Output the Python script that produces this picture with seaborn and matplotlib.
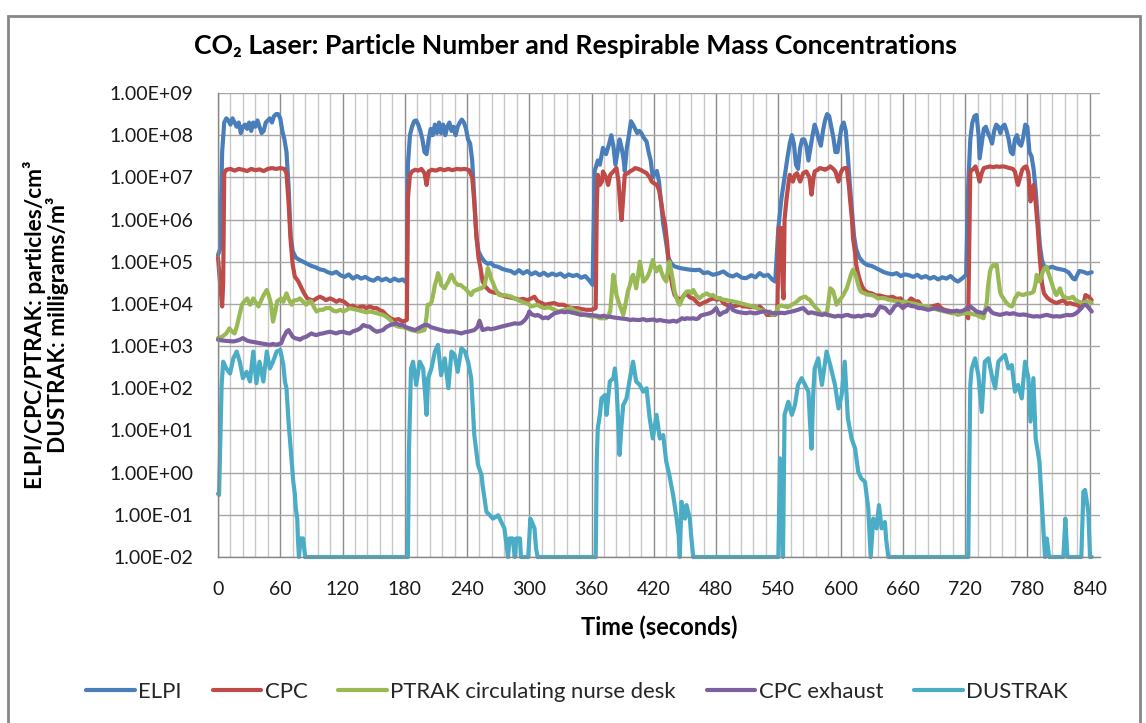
import numpy as np
import pandas as pd
import matplotlib
matplotlib.use("Agg")
import matplotlib.pyplot as plt
import seaborn as sns
from matplotlib.ticker import MultipleLocator, FixedLocator, NullLocator, FuncFormatter
from matplotlib.patches import Rectangle

# ---------------- data (time in s, log10 of concentration) ----------------
SERIES = ["ELPI", "CPC", "PTRAK circulating nurse desk", "CPC exhaust", "DUSTRAK"]
COLORS = ["#4A7EBB", "#BE4B48", "#98B954", "#7D60A0", "#4BACC6"]
X_TICKS = list(range(0, 841, 60))
Y_DECADES = list(range(-2, 10))

ELPI_LOG = [(0,5.16),(2,5.3),(4,7.6),(6,8.3),(8,8.4),(10,8.35),(12,8.25),(14,8.4),(16,8.3),(18,8.2),(20,8.3),(22,8.05),(24,8.2),(26,8.25),(28,8.15),(30,8.3),(32,8.1),(34,8.3),(36,8.2),(38,8.35),(40,8.2),(42,8.05),(44,8.1),(46,8.3),(48,8.35),(50,8.4),(52,8.3),(54,8.45),(56,8.5),(58,8.5),(60,8.4),(62,8.1),(64,7.9),(66,7.6),(68,6.8),(70,5.6),(72,5.25),(75,5.1),(78,5.05),(82,5.0),(86,4.95),(90,4.9),(94,4.87),(98,4.82),(102,4.8),(106,4.75),(110,4.72),(114,4.76),(118,4.68),(122,4.64),(126,4.7),(130,4.6),(134,4.66),(138,4.6),(142,4.64),(146,4.58),(150,4.55),(154,4.62),(158,4.56),(162,4.6),(166,4.54),(170,4.6),(174,4.55),(178,4.58),(182,4.5),
(183,7.3),(185,8.0),(187,8.2),(189,8.33),(191,8.35),(193,8.25),(195,8.1),(197,7.9),(199,7.6),(201,7.55),(203,7.9),(205,8.15),(207,8.0),(209,8.25),(211,8.05),(213,8.3),(215,8.05),(217,8.25),(219,8.0),(221,8.2),(223,8.3),(225,8.1),(227,8.2),(229,8.0),(231,8.2),(233,8.3),(235,8.37),(237,8.3),(239,8.15),(241,7.9),(243,7.8),(245,7.4),(247,6.5),(249,5.6),(251,5.25),(254,5.1),(257,5.0),(260,4.95),(263,4.97),(266,4.9),(270,4.88),(274,4.83),(278,4.8),(282,4.78),(286,4.72),(290,4.8),(294,4.72),(298,4.78),(302,4.7),(306,4.75),(310,4.68),(314,4.74),(318,4.67),(322,4.72),(326,4.68),(330,4.72),(334,4.64),(338,4.7),(342,4.66),(346,4.69),(350,4.62),(354,4.66),(358,4.55),(361,4.45),
(363,7.15),(366,7.4),(368,7.3),(371,7.7),(374,7.55),(377,7.8),(379,8.0),(381,7.75),(383,7.3),(385,7.6),(387,7.9),(389,7.7),(391,7.4),(392,7.15),(394,7.7),(396,8.0),(398,8.33),(400,8.25),(402,8.15),(404,8.05),(406,8.1),(408,8.05),(410,7.95),(413,7.85),(415,7.6),(417,7.4),(419,7.0),(421,7.1),(423,7.15),(425,6.9),(427,6.4),(429,5.9),(431,5.6),(434,5.1),(437,4.95),(440,4.89),(445,4.85),(450,4.83),(455,4.81),(460,4.8),(464,4.81),(468,4.73),(472,4.75),(477,4.69),(482,4.72),(487,4.77),(492,4.68),(496,4.65),(500,4.7),(505,4.62),(509,4.61),(514,4.68),(518,4.63),(522,4.73),(526,4.66),(530,4.69),(534,4.58),(537,4.53),
(540,5.8),(543,6.5),(546,7.0),(549,7.5),(551,7.8),(553,8.0),(555,7.8),(557,7.3),(559,7.2),(561,7.7),(563,7.9),(565,7.9),(567,7.75),(569,7.4),(571,7.7),(573,8.0),(575,8.25),(577,8.1),(579,7.9),(581,7.75),(583,8.1),(585,8.35),(587,8.5),(589,8.45),(591,8.2),(593,7.95),(595,7.6),(597,7.6),(599,7.9),(601,8.2),(603,8.3),(605,8.1),(607,7.5),(609,6.8),(611,6.2),(613,5.6),(615,5.3),(618,5.1),(622,4.98),(626,4.92),(630,4.9),(634,4.85),(638,4.8),(642,4.75),(646,4.72),(650,4.7),(654,4.73),(658,4.66),(662,4.7),(666,4.68),(670,4.64),(674,4.69),(678,4.62),(682,4.66),(686,4.6),(690,4.64),(694,4.58),(698,4.63),(702,4.6),(706,4.66),(710,4.57),(713,4.53),(717,4.6),(721,4.69),
(723,6.8),(725,7.9),(727,8.3),(729,8.45),(731,8.48),(733,8.0),(734,7.45),(736,7.8),(738,8.15),(740,8.2),(742,8.05),(744,7.95),(746,7.8),(748,8.1),(750,8.25),(752,8.2),(754,8.05),(756,8.2),(758,8.25),(760,8.1),(762,7.9),(764,7.6),(766,7.55),(768,7.9),(770,8.0),(772,7.8),(774,7.75),(776,7.95),(778,8.25),(780,8.2),(782,7.6),(784,7.5),(786,7.2),(788,6.7),(790,6.0),(792,5.4),(794,5.05),(796,4.9),(800,4.85),(804,4.88),(808,4.84),(812,4.82),(816,4.8),(820,4.74),(824,4.6),(826,4.58),(830,4.78),(834,4.76),(838,4.72),(842,4.75)]

CPC_LOG = [(0,5.1),(2,4.5),(4,3.94),(5,4.5),(6,7.1),(8,7.18),(12,7.2),(16,7.16),(20,7.2),(24,7.18),(28,7.15),(32,7.2),(36,7.17),(40,7.19),(44,7.15),(48,7.2),(52,7.22),(56,7.2),(60,7.22),(64,7.2),(66,7.1),(68,6.4),(70,5.5),(72,4.93),(74,4.65),(77,4.55),(80,4.4),(83,4.25),(86,4.13),(89,4.1),(92,4.08),(95,4.13),(98,4.17),(101,4.14),(104,4.09),(108,4.13),(111,4.1),(114,4.05),(117,4.09),(121,4.06),(124,4.0),(127,3.94),(130,3.96),(134,3.9),(137,3.93),(140,3.94),(143,3.9),(146,3.94),(150,3.9),(153,3.9),(156,3.85),(159,3.82),(162,3.74),(166,3.66),(170,3.62),(174,3.64),(178,3.58),(182,3.62),
(183,6.5),(185,7.06),(187,7.14),(190,7.18),(193,7.16),(196,7.2),(199,7.1),(201,6.82),(203,7.14),(206,7.18),(210,7.16),(214,7.2),(218,7.17),(222,7.2),(226,7.17),(230,7.2),(234,7.19),(238,7.2),(242,7.17),(245,7.0),(247,6.4),(249,5.64),(251,5.1),(253,4.85),(255,4.53),(258,4.4),(262,4.3),(266,4.27),(270,4.25),(274,4.2),(278,4.17),(282,4.15),(286,4.13),(290,4.1),(294,4.12),(298,4.09),(302,4.13),(305,4.17),(308,4.06),(312,4.02),(315,3.98),(319,4.0),(324,4.02),(328,3.98),(333,3.98),(338,3.92),(342,3.9),(346,3.9),(350,3.88),(355,3.86),(360,3.86),(364,3.9),
(365,6.27),(366,7.06),(368,6.82),(370,6.9),(371,7.14),(374,7.0),(376,6.82),(378,7.06),(381,7.14),(384,7.22),(386,6.9),(388,6.2),(389,5.99),(391,6.7),(392,7.06),(395,7.1),(397,7.14),(400,7.18),(402,7.22),(405,7.2),(407,7.18),(410,7.14),(413,7.1),(416,7.0),(418,6.9),(420,6.86),(423,6.82),(425,6.7),(427,6.43),(429,6.1),(431,5.87),(433,5.4),(434,5.08),(436,4.7),(438,4.4),(440,4.21),(443,4.13),(446,4.1),(449,4.2),(451,4.25),(455,4.15),(458,4.13),(461,4.05),(464,3.98),(468,4.03),(471,4.06),(474,4.1),(477,4.13),(481,4.1),(484,4.13),(487,4.02),(490,3.98),(493,3.96),(496,3.94),(500,3.96),(503,3.98),(506,3.94),(509,3.94),(513,3.92),(516,3.94),(520,3.9),(522,3.94),(526,3.85),(529,3.74),(533,3.74),(537,3.74),(539,3.82),
(540.5,5.8),(543,5.8),(544,4.5),(545,4.13),(546,6.0),(548,6.51),(550,6.9),(551,7.06),(554,6.9),(556,7.06),(558,7.1),(561,6.9),(564,7.1),(567,7.14),(570,7.0),(572,6.59),(574,7.0),(575,7.14),(578,7.18),(580,7.22),(583,7.2),(585,7.18),(588,7.22),(590,7.26),(593,7.2),(595,7.14),(598,6.9),(600,7.1),(602,7.2),(604,7.22),(606,7.22),(608,6.8),(609,6.51),(611,6.0),(612,5.56),(614,5.2),(615,4.93),(617,4.7),(619,4.53),(621,4.4),(623,4.33),(626,4.27),(630,4.25),(634,4.2),(638,4.2),(642,4.17),(646,4.15),(650,4.17),(654,4.12),(658,4.13),(662,3.98),(665,4.05),(668,4.13),(672,4.06),(675,4.06),(678,3.95),(681,3.9),(685,3.92),(688,3.94),(691,3.96),(694,3.98),(697,3.9),(700,3.86),(704,3.84),(708,3.82),(712,3.8),(716,3.78),(721,3.82),(723,3.66),
(725,7.14),(728,7.2),(730,7.26),(732,7.1),(734,6.9),(736,7.1),(738,7.22),(741,7.24),(744,7.26),(747,7.24),(750,7.26),(753,7.25),(757,7.26),(760,7.24),(763,7.22),(766,7.2),(768,7.14),(770,6.9),(771,6.82),(773,7.0),(775,7.18),(777,7.24),(779,7.26),(781,7.1),(783,6.43),(785,6.6),(786,6.82),(788,6.4),(790,5.8),(792,5.08),(794,4.5),(796,4.25),(799,4.15),(802,4.09),(805,4.05),(808,4.02),(811,4.05),(815,4.09),(818,4.0),(821,4.02),(825,3.99),(828,3.98),(832,3.9),(834,4.0),(836,4.21),(839,4.17),(842,4.09)]

PTRAK_LOG = [(0,3.19),(4,3.22),(8,3.3),(11,3.42),(13,3.36),(16,3.3),(18,3.45),(20,3.66),(23,3.98),(25,4.05),(28,4.13),(31,3.98),(34,4.13),(36,4.05),(39,3.94),(41,4.05),(44,4.21),(47,4.33),(49,4.2),(51,4.0),(53,3.58),(55,3.8),(57,4.06),(59,4.1),(61,4.13),(63,4.05),(66,4.25),(68,4.12),(71,3.98),(73,4.08),(76,4.09),(79,4.13),(82,4.05),(85,3.98),(88,4.06),(90,4.06),(93,3.9),(95,3.82),(98,3.86),(101,3.86),(104,3.9),(108,3.9),(111,3.84),(114,3.82),(118,3.86),(121,3.82),(124,3.86),(127,3.9),(130,3.88),(134,3.86),(137,3.84),(140,3.82),(143,3.8),(146,3.82),(150,3.8),(153,3.78),(156,3.76),(159,3.74),(162,3.7),(166,3.62),(170,3.5),(174,3.46),(178,3.45),(182,3.42),
(186,3.38),(190,3.36),(193,3.34),(196,3.36),(199,3.38),(201,3.7),(202,3.98),(205,4.0),(206,4.06),(208,4.3),(209,4.45),(211,4.6),(212,4.73),(214,4.6),(215,4.45),(217,4.4),(218.5,4.37),(220,4.45),(222,4.53),(224,4.65),(225,4.69),(227,4.6),(228,4.53),(231,4.45),(234,4.45),(236,4.4),(238,4.37),(241,4.29),(244,4.21),(246,4.3),(249,4.33),(252,4.36),(254,4.37),(257,4.45),(259,4.7),(260,4.85),(262,4.72),(263,4.61),(265,4.5),(267,4.37),(269,4.28),(271,4.21),(274,4.2),(276,4.21),(280,4.19),(283,4.17),(286,4.13),(289,4.09),(292,4.06),(296,4.02),(299,4.0),(302,3.94),(305,3.96),(308,3.98),(312,3.92),(315,3.9),(318,3.92),(321,3.9),(325,3.85),(328,3.82),(331,3.84),(334,3.86),(337,3.88),(340,3.9),(343,3.85),(347,3.82),(350,3.78),(353,3.74),(356,3.72),(360,3.7),
(364,3.7),(368,3.66),(371,3.66),(374,3.66),(376,3.72),(378,3.82),(380,4.4),(381,4.69),(383,4.4),(384,4.21),(386,4.05),(387,3.98),(389,3.85),(390.5,3.74),(392,3.9),(393.7,4.13),(395,4.3),(397,4.45),(398.5,4.6),(400,4.69),(402,4.5),(403,4.37),(405,4.7),(406.5,5.0),(408,4.8),(409.8,4.53),(411,4.55),(413,4.61),(415,4.7),(416,4.77),(418,4.95),(419,5.04),(421,4.85),(422.6,4.77),(424,4.85),(425.8,4.89),(427,4.78),(429,4.65),(430,4.6),(432,4.53),(433,4.7),(435,5.0),(437,4.75),(438.6,4.53),(440,4.3),(442,4.13),(444,4.0),(445,3.98),(447,4.1),(449,4.2),(451.5,4.29),(454,4.3),(456,4.25),(458,4.33),(461,4.2),(464,4.13),(467,4.2),(471,4.25),(474,4.2),(477,4.21),(480,4.15),(484,4.13),(487,4.1),(490,4.09),(493,4.07),(496,4.06),(500,4.04),(503,4.02),(506,4.0),(509,3.98),(512,3.96),(516,3.94),(519,3.9),(522,3.86),(526,3.84),(529,3.8),(532,3.82),(534,3.74),(537,3.76),
(540,3.94),(543,3.96),(546,3.94),(549,3.92),(553,3.98),(556,4.02),(558,4.06),(561,4.13),(563,4.15),(566,4.17),(568,4.13),(570.5,4.09),(573,4.0),(575,3.94),(578,3.86),(582,3.74),(584,3.78),(586.5,3.74),(588,4.0),(590,4.37),(592,4.33),(593,4.29),(595,4.1),(596,3.98),(598,4.05),(599,4.09),(601,4.15),(602.6,4.21),(604,4.28),(606,4.37),(607,4.45),(609,4.61),(610,4.7),(612,4.81),(614,4.72),(615,4.65),(617,4.45),(618.6,4.33),(620,4.28),(623,4.25),(626,4.22),(630,4.21),(633,4.18),(636,4.13),(640,4.14),(643,4.13),(646,4.1),(649,4.09),(652,4.07),(655.6,4.06),(659,4.04),(662,4.06),(665,4.03),(668,4.02),(672,4.0),(675,3.98),(678,3.96),(681,3.94),(684,3.93),(688,3.9),(691,3.88),(694,3.86),(697,3.84),(700.5,3.82),(704,3.8),(707,3.78),(710,3.78),
(713,3.74),(716,3.76),(720,3.78),(725,3.78),(728,3.75),(731,3.74),(734,3.7),(737.7,3.66),(739,3.8),(741,4.06),(742,4.4),(744,4.77),(745,4.85),(747,4.92),(748.5,4.9),(750.5,4.93),(752,4.6),(753.7,4.29),(755,4.2),(757,4.13),(759,4.05),(761.7,3.98),(763,3.96),(765,3.94),(766.5,4.0),(768,4.13),(770,4.2),(771,4.25),(774,4.22),(776,4.21),(779,4.24),(782.6,4.25),(784,4.26),(786,4.29),(788,4.5),(789,4.69),(790,4.6),(792,4.53),(793.5,4.65),(795,4.77),(797,4.85),(798.7,4.88),(800,4.75),(802,4.61),(803.5,4.5),(805,4.37),(807,4.25),(808,4.21),(810,4.3),(811.5,4.37),(813,4.25),(814.7,4.17),(817,4.15),(819.5,4.13),(822,4.15),(824,4.17),(826,4.1),(829,4.06),(831,4.04),(834,4.02),(836,4.05),(839,4.06),(842,4.02)]

CPC_EXHAUST_LOG = [(0,3.15),(5,3.13),(10,3.12),(15,3.11),(20,3.14),(24,3.19),(28,3.13),(31,3.11),(36,3.09),(40,3.07),(45,3.05),(50,3.03),(53,3.05),(56.5,3.03),(61,3.07),(63,3.2),(66,3.34),(68,3.38),(70,3.3),(72,3.22),(74,3.19),(77,3.17),(79,3.15),(82,3.2),(85,3.22),(88,3.27),(90,3.3),(93,3.27),(95,3.26),(98,3.29),(101,3.3),(104,3.32),(108,3.34),(111,3.32),(114,3.3),(117,3.33),(121,3.34),(124,3.31),(127,3.3),(130,3.35),(134,3.38),(137,3.42),(140,3.5),(143,3.47),(146,3.46),(150,3.38),(153,3.34),(156,3.36),(159,3.38),(162,3.45),(166,3.5),(169,3.52),(172,3.54),(175,3.5),(178,3.5),(181,3.45),(185,3.42),(188,3.4),(190,3.38),(193,3.42),(196,3.46),(199,3.5),(202,3.5),(205,3.45),(209,3.42),(212,3.4),(215,3.38),(218,3.36),(222,3.34),(225,3.35),(228,3.34),(231,3.32),(234.6,3.3),(238,3.33),(241,3.34),(244,3.36),(247,3.38),(250,3.45),(252,3.6),(254,3.45),(255,3.38),(258,3.4),(260,3.42),(263,3.4),(267,3.42),(270,3.44),(273,3.46),(276,3.48),(279.5,3.5),(283,3.52),(286,3.54),(289,3.53),(292,3.54),(295,3.6),(297,3.66),(299,3.75),(300,3.82),(302,3.76),(303.6,3.74),(306,3.72),(308,3.74),(311,3.7),(313,3.66),(316,3.68),(318,3.66),(321,3.72),(324.5,3.78),(328,3.8),(331,3.82),(334,3.8),(337,3.82),(340,3.8),(344,3.78),(347,3.76),(350,3.74),(354,3.75),(358,3.74),(362,3.73),(365,3.72),(368,3.7),(372,3.72),(375,3.69),(377.6,3.7),(381,3.68),(384,3.67),(387,3.66),(391,3.65),(394,3.64),(397,3.62),(400,3.63),(403,3.62),(406.5,3.62),(410,3.64),(413,3.61),(416,3.62),(420,3.63),(423,3.6),(426,3.62),(429,3.6),(432,3.59),(435,3.58),(439,3.6),(442,3.58),(445,3.62),(447,3.66),(450,3.64),(451.5,3.66),(455,3.65),(458,3.66),(461,3.64),(463,3.66),(465,3.72),(467.5,3.74),(471,3.76),(474,3.78),(477,3.82),(480,3.9),(482,3.8),(483.6,3.74),(487,3.8),(490,3.82),(492,3.9),(494,3.98),(496,3.86),(499.6,3.82),(503,3.8),(506,3.79),(509,3.78),(513,3.8),(516,3.78),(519,3.78),(522,3.8),(525,3.82),(528.5,3.82),(531,3.8),(534,3.78),(537,3.78),(540,3.78),(543,3.79),(546,3.78),(549,3.8),(553,3.82),(556,3.84),(559,3.86),(561,3.88),(564,3.9),(566,3.85),(569,3.78),(572,3.8),(575,3.78),(578,3.76),(582,3.74),(585,3.76),(588,3.74),(591,3.72),(594.6,3.7),(598,3.72),(601,3.7),(604,3.73),(607,3.74),(610,3.71),(614,3.7),(617,3.72),(620,3.7),(623,3.73),(626.7,3.74),(630,3.72),(633,3.74),(635,3.82),(638,3.94),(640,3.92),(643,3.9),(645,3.84),(647.5,3.78),(650,3.86),(652,3.94),(655.6,4.0),(658,3.95),(660,3.9),(663,3.96),(665,3.98),(668,3.95),(671.6,3.94),(675,3.9),(678,3.9),(681,3.88),(684.5,3.86),(688,3.88),(691,3.9),(694,3.88),(697,3.86),(700,3.84),(704,3.82),(708,3.82),(712,3.84),(715,3.82),(718,3.84),(721,3.88),(725,3.94),(728,3.88),(731,3.82),(734,3.8),(737.7,3.78),(740,3.85),(742.5,3.9),(745,3.82),(747,3.78),(750,3.76),(753.7,3.74),(757,3.76),(760,3.78),(763,3.76),(766.5,3.78),(770,3.75),(773,3.74),(776,3.75),(779,3.74),(782,3.72),(786,3.7),(789,3.71),(792,3.7),(795,3.72),(798.7,3.74),(802,3.72),(805,3.7),(808,3.71),(811.5,3.7),(815,3.72),(818,3.74),(821,3.73),(824,3.74),(827,3.78),(829,3.82),(832,3.9),(834,3.97),(837,3.97),(840,3.88),(842,3.82)]

DUSTRAK_LOG = [(0,-0.5),(1,-0.53),(2.5,1.0),(3.5,2.08),(5,2.63),(8,2.47),(11.6,2.35),(14.8,2.71),(18,2.87),(21,2.63),(24,2.24),(27.6,2.39),(30.8,2.16),(34,2.87),(37,2.12),(40,2.63),(43.7,2.16),(47,2.87),(50,2.47),(53,2.63),(56.5,2.87),(60,2.91),(63,2.55),(64.5,2.16),(66,2.0),(67,1.6),(68,1.2),(69,0.89),(70,0.6),(71,0.3),(72.5,-0.2),(74,-0.5),(75,-0.85),(76.4,-1.1),(77,-1.56),(78,-2.0),(79.6,-1.56),(82,-1.56),(84,-2.0),
(183,-2.0),(184,0.5),(186,2.47),(188,2.63),(191,2.08),(194.4,2.63),(197.7,2.47),(199.5,1.9),(201,1.37),(202.5,2.24),(205.7,2.47),(209,2.87),(212,3.03),(215,2.31),(218.5,2.71),(222,2.0),(225,2.87),(228,2.79),(231,2.39),(234.6,2.95),(238,2.87),(241,2.63),(244,2.24),(247,0.89),(250.6,0.18),(254,-0.06),(255,-0.3),(258.7,-0.93),(262,-1.01),(265,-1.09),(270,-1.01),(273,-1.17),(276,-1.32),(279.5,-2.0),(281,-1.56),(284,-1.56),(286,-2.0),(287.5,-1.56),(291,-1.56),(292,-2.0),(299,-2.0),(301,-1.09),(303,-1.2),(305,-1.32),(306.5,-1.8),(308,-2.0),
(364,-2.0),(365,0.3),(366,1.05),(368,1.37),(369.6,1.76),(373,1.84),(374.4,1.37),(377.6,2.16),(381,2.24),(382.5,2.47),(384,2.08),(385.5,1.3),(387,0.42),(388.8,1.1),(390.5,1.6),(393.7,1.76),(397,2.24),(400,2.63),(403,2.16),(406.5,2.08),(409.8,1.92),(413,2.0),(416,1.29),(419,0.81),(422.6,1.37),(425.8,0.81),(429,0.89),(432,0.26),(435,-0.06),(438.6,-0.53),(442,-1.09),(444,-1.5),(445,-2.0),(446.7,-0.69),(450,-1.09),(451.5,-0.77),(454.7,-1.09),(456,-1.5),(458,-2.0),
(540,-2.0),(541.6,0.34),(543,0.2),(544.5,-2.0),(546,1.37),(549.6,1.68),(553,1.37),(556,1.6),(559,2.08),(562.5,2.24),(565.7,2.08),(569,1.92),(570.5,1.2),(572,0.57),(573.5,1.8),(575,2.47),(578.5,2.71),(582,2.08),(586.5,2.87),(590,2.55),(594.6,2.08),(598,1.52),(601,1.84),(604,2.63),(607,1.29),(610.6,0.81),(614,0.57),(617,0.02),(620,-0.14),(623.5,-0.22),(626.7,-0.85),(629,-2.0),(631.5,-1.09),(634.7,-1.32),(637,-0.77),(639.5,-1.32),(642.7,-1.17),(644,-1.6),(646,-2.0),
(723,-2.0),(725,2.08),(726.4,2.47),(729.6,2.71),(732.8,2.31),(736,1.44),(739,2.63),(742.5,2.71),(745.7,2.31),(749,2.0),(752,2.63),(755,2.71),(758.5,2.79),(761.7,2.47),(765,2.55),(768,1.92),(771,2.08),(774.6,1.76),(777.8,2.63),(781,2.24),(783,1.21),(785.8,2.24),(788,0.81),(791.6,0.26),(794.8,-1.09),(797,-2.0),(798.7,-1.56),(801,-2.0),(814.7,-2.0),(816.6,-1.09),(818.6,-2.0),(832,-2.0),(834,-0.45),(835.6,-0.41),(838.8,-0.93),(840.4,-2.0),(842,-2.0)]

TITLE = "CO\u2082 Laser: Particle Number and Respirable Mass Concentrations"
XLABEL = "Time (seconds)"
YLABEL = "ELPI/CPC/PTRAK: particles/cm\u00b3\nDUSTRAK: milligrams/m\u00b3"

# ---------------- build long table ----------------
frames = []
for name, pts in zip(SERIES, [ELPI_LOG, CPC_LOG, PTRAK_LOG, CPC_EXHAUST_LOG, DUSTRAK_LOG]):
    t, lg = zip(*pts)
    frames.append(pd.DataFrame({"time": t, "value": 10.0 ** np.array(lg), "series": name}))
df = pd.concat(frames, ignore_index=True)

# ---------------- figure ----------------
sns.set_style("white")
plt.rcParams["font.family"] = ["Lato", "DejaVu Sans"]

W, H = 1146, 723
fig = plt.figure(figsize=(W / 100, H / 100), dpi=100)
L, R, T, B = 218, 1100, 93, 557
ax = fig.add_axes([L / W, 1 - B / H, (R - L) / W, (B - T) / H])

sns.lineplot(data=df, x="time", y="value", hue="series", hue_order=SERIES,
             palette=COLORS, estimator=None, sort=False, linewidth=3.0,
             ax=ax, clip_on=False)

ax.set_yscale("log")
ax.set_ylim(1e-2, 1e9)
ax.set_xlim(0, 850)
ax.yaxis.set_major_locator(FixedLocator([10.0 ** k for k in Y_DECADES]))
ax.yaxis.set_minor_locator(NullLocator())
ax.yaxis.set_major_formatter(FuncFormatter(lambda v, p: f"{v:.2E}"))
ax.xaxis.set_major_locator(FixedLocator(X_TICKS))
ax.xaxis.set_minor_locator(MultipleLocator(12))

ax.grid(axis="y", which="major", color="#A6A6A6", linewidth=1.0)
ax.grid(axis="x", which="major", color="#8C8C8C", linewidth=1.0)
ax.grid(axis="x", which="minor", color="#C8C8C8", linewidth=1.0)
ax.set_axisbelow(True)

for s in ["top", "right"]:
    ax.spines[s].set_visible(False)
for s in ["left", "bottom"]:
    ax.spines[s].set_color("#868686")
    ax.spines[s].set_linewidth(1.0)

ax.tick_params(axis="y", which="major", length=6, width=1, color="#868686",
               pad=12, labelsize=14, labelcolor="#1a1a1a")
ax.tick_params(axis="x", which="major", length=5, width=1, color="#868686",
               pad=12, labelsize=14, labelcolor="#1a1a1a")
ax.tick_params(axis="x", which="minor", length=0)
ax.set_xlabel("")
ax.set_ylabel("")

handles, labels = ax.get_legend_handles_labels()
ax.get_legend().remove()
fig.legend(handles, labels, loc="center", bbox_to_anchor=(577 / W, 1 - 692 / H),
           ncol=5, frameon=False, fontsize=15.9, handlelength=2.2,
           columnspacing=1.4, handletextpad=0.15)

fig.text(576 / W, 1 - 46 / H, TITLE, ha="center", va="center",
         fontsize=19.2, fontweight="bold", color="#000000")
fig.text(659 / W, 1 - 627 / H, XLABEL, ha="center", va="center",
         fontsize=17, fontweight="bold", color="#000000")
fig.text(46 / W, 1 - 325 / H, YLABEL, ha="center", va="center", rotation=90,
         multialignment="center", fontsize=16.3, fontweight="bold",
         color="#000000", linespacing=0.95)

fig.patches.append(Rectangle((8 / W, -0.01), (1140 - 8) / W, 1 - 16 / H + 0.01,
                             transform=fig.transFigure, fill=False,
                             edgecolor="#888888", linewidth=2.0))

fig.savefig("out.png", dpi=100, facecolor="white")
